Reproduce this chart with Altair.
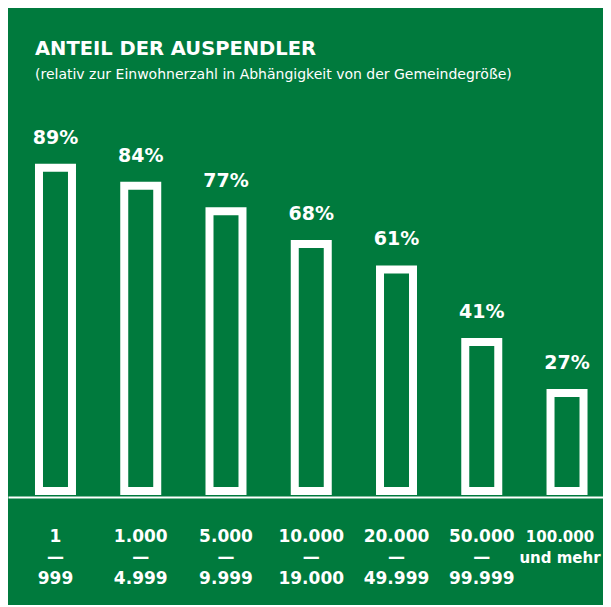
import altair as alt
import pandas as pd

# --- data -------------------------------------------------------------
categories = [
    "1|—|999",
    "1.000|—|4.999",
    "5.000|—|9.999",
    "10.000|—|19.000",
    "20.000|—|49.999",
    "50.000|—|99.999",
    "100.000|und mehr",
]
values = [89, 84, 77, 68, 61, 41, 27]
value_labels = ["89%", "84%", "77%", "68%", "61%", "41%", "27%"]

title_text = "ANTEIL DER AUSPENDLER"
subtitle_text = "(relativ zur Einwohnerzahl in Abhängigkeit von der Gemeindegröße)"

GREEN = "#007A3D"
FONT = "DejaVu Sans"
LAST = categories[-1]

df = pd.DataFrame({"group": categories, "value": values, "label": value_labels})

x_enc = alt.X(
    "group:N",
    sort=None,
    scale=alt.Scale(paddingInner=0.613, paddingOuter=0.296, align=0.614),
    axis=alt.Axis(
        title=None,
        labelExpr="split(datum.label, '|')",
        labelAngle=0,
        ticks=False,
        tickSize=0,
        labelPadding=44,
        labelBaseline="alphabetic",
        labelFont=FONT,
        labelFontWeight="bold",
        labelFontSize={"condition": {"test": f"datum.value == '{LAST}'", "value": 15}, "value": 17},
        labelOffset={"condition": {"test": f"datum.value == '{LAST}'", "value": -7}, "value": 0},
        labelColor="white",
        labelLineHeight=21,
        domainColor="white",
        domainWidth=2,
        grid=False,
        labelOverlap=False,
        labelBound=False,
        labelLimit=300,
    ),
)
y_enc = alt.Y("value:Q", scale=alt.Scale(domain=[0, 100], range=[391, 27.7]), axis=None)

bars = alt.Chart(df).mark_bar(
    fill=GREEN, stroke="white", strokeWidth=8, strokeJoin="miter"
).encode(x=x_enc, y=y_enc)

text = alt.Chart(df).mark_text(
    baseline="alphabetic", dy=-24, font=FONT, fontWeight="bold", fontSize=19, color="white"
).encode(x=x_enc, y=y_enc, text="label:N")

chart = (
    alt.layer(bars, text)
    .properties(
        width=595,
        height=397,
        background=GREEN,
        padding={"left": 0, "top": 92, "right": 0, "bottom": 108},
        autosize=alt.AutoSizeParams(type="none"),
        title=alt.TitleParams(
            text=title_text,
            subtitle=subtitle_text,
            anchor="start",
            dx=27,
            offset=17,
            font=FONT,
            fontSize=19.5,
            fontWeight="bold",
            color="white",
            subtitleFont=FONT,
            subtitleFontSize=14,
            subtitleColor="white",
            subtitlePadding=9,
        ),
    )
    .configure_view(stroke=None)
)

chart.save("out.html", embed_options={"renderer": "svg", "actions": False})
